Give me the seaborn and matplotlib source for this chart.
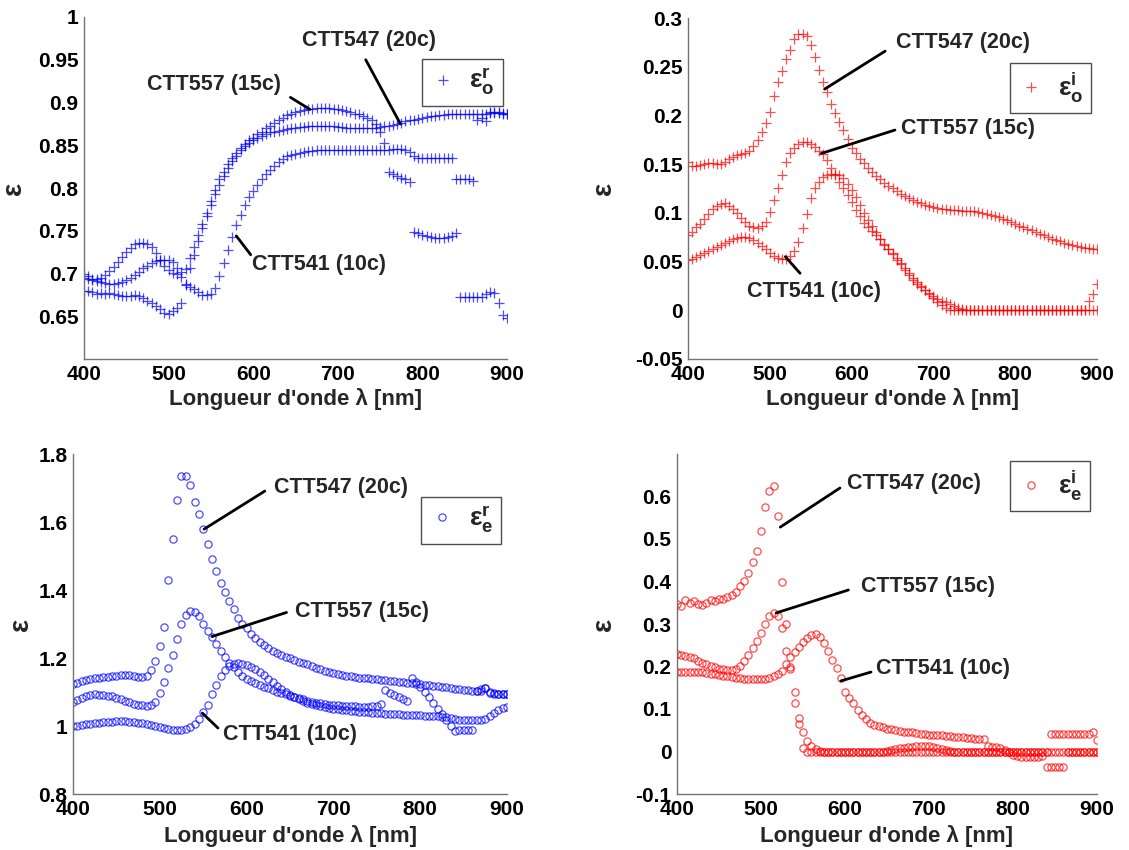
import matplotlib
matplotlib.use("Agg")
import matplotlib.pyplot as plt
import seaborn as sns
import pandas as pd
from matplotlib.ticker import FuncFormatter

sns.set_style("white")
plt.rcParams["font.family"] = ["Liberation Sans", "DejaVu Sans"]
plt.rcParams["font.weight"] = "bold"
plt.rcParams["mathtext.fontset"] = "custom"
plt.rcParams["mathtext.rm"] = "Liberation Sans:bold"
plt.rcParams["mathtext.it"] = "Liberation Sans:bold"
plt.rcParams["mathtext.bf"] = "Liberation Sans:bold"
plt.rcParams["mathtext.default"] = "bf"

# wavelength grid (nm), one sample every 5 nm
wavelength = list(range(400, 905, 5))
samples = ["CTT547 (20c)", "CTT557 (15c)", "CTT541 (10c)"]

# --- epsilon ordinary, real part ---
eo_r_20c = [0.680, 0.679, 0.678, 0.676, 0.677, 0.676, 0.677, 0.676, 0.675, 0.674,
            0.674, 0.674, 0.675, 0.674, 0.671, 0.668, 0.665, 0.662, 0.658, 0.654,
            0.653, 0.656, 0.660, 0.666, 0.688, 0.706, 0.722, 0.738, 0.753, 0.767,
            0.780, 0.793, 0.804, 0.814, 0.823, 0.831, 0.838, 0.844, 0.849, 0.853,
            0.856, 0.859, 0.861, 0.863, 0.865, 0.866, 0.867, 0.868, 0.869, 0.870,
            0.870, 0.871, 0.871, 0.872, 0.872, 0.872, 0.873, 0.873, 0.872, 0.872,
            0.871, 0.871, 0.870, 0.870, 0.870, 0.870, 0.870, 0.870, 0.870, 0.870,
            0.871, 0.872, 0.873, 0.874, 0.875, 0.876, 0.878, 0.879, 0.880, 0.881,
            0.882, 0.883, 0.884, 0.884, 0.885, 0.885, 0.886, 0.886, 0.886, 0.887,
            0.887, 0.887, 0.887, 0.887, 0.887, 0.887, 0.888, 0.888, 0.888, 0.887,
            0.886]
eo_r_15c = [0.700, 0.697, 0.694, 0.693, 0.695, 0.698, 0.703, 0.708, 0.713, 0.719,
            0.725, 0.730, 0.734, 0.736, 0.736, 0.735, 0.731, 0.724, 0.716, 0.709,
            0.704, 0.701, 0.700, 0.702, 0.705, 0.718, 0.731, 0.745, 0.758, 0.771,
            0.785, 0.798, 0.810, 0.819, 0.828, 0.835, 0.841, 0.847, 0.852, 0.856,
            0.859, 0.863, 0.866, 0.870, 0.873, 0.876, 0.879, 0.882, 0.885, 0.887,
            0.889, 0.890, 0.891, 0.892, 0.892, 0.893, 0.893, 0.893, 0.893, 0.892,
            0.892, 0.891, 0.890, 0.889, 0.887, 0.886, 0.884, 0.882, 0.879, 0.875,
            0.866, 0.853, 0.819, 0.816, 0.814, 0.812, 0.810, 0.807, 0.748, 0.747,
            0.745, 0.744, 0.743, 0.742, 0.742, 0.742, 0.743, 0.744, 0.747, 0.672,
            0.672, 0.672, 0.672, 0.672, 0.673, 0.676, 0.678, 0.677, 0.666, 0.652,
            0.648]
eo_r_10c = [0.695, 0.693, 0.692, 0.691, 0.690, 0.689, 0.688, 0.688, 0.689, 0.690,
            0.692, 0.695, 0.698, 0.702, 0.706, 0.709, 0.712, 0.715, 0.716, 0.716,
            0.716, 0.713, 0.706, 0.696, 0.686, 0.684, 0.682, 0.678, 0.675, 0.675,
            0.676, 0.683, 0.697, 0.712, 0.728, 0.743, 0.757, 0.769, 0.780, 0.789,
            0.797, 0.804, 0.810, 0.816, 0.821, 0.826, 0.830, 0.834, 0.837, 0.839,
            0.840, 0.841, 0.842, 0.843, 0.843, 0.844, 0.844, 0.844, 0.844, 0.844,
            0.844, 0.844, 0.844, 0.844, 0.844, 0.844, 0.844, 0.844, 0.844, 0.844,
            0.844, 0.844, 0.845, 0.846, 0.846, 0.846, 0.845, 0.842, 0.838, 0.835,
            0.835, 0.835, 0.835, 0.835, 0.835, 0.835, 0.835, 0.835, 0.810, 0.810,
            0.810, 0.810, 0.808, 0.880, 0.882, 0.878, 0.889, 0.889, 0.889, 0.888,
            0.886]

# --- epsilon ordinary, imaginary part ---
eo_i_20c = [0.152, 0.148, 0.148, 0.149, 0.150, 0.151, 0.151, 0.150, 0.150, 0.152,
            0.155, 0.157, 0.159, 0.160, 0.161, 0.164, 0.169, 0.175, 0.183, 0.192,
            0.204, 0.220, 0.234, 0.246, 0.258, 0.267, 0.278, 0.284, 0.284, 0.282,
            0.272, 0.260, 0.247, 0.234, 0.224, 0.212, 0.202, 0.193, 0.185, 0.176,
            0.167, 0.161, 0.155, 0.151, 0.146, 0.142, 0.138, 0.135, 0.131, 0.128,
            0.125, 0.122, 0.119, 0.117, 0.115, 0.113, 0.111, 0.110, 0.108, 0.107,
            0.106, 0.105, 0.104, 0.104, 0.103, 0.103, 0.103, 0.102, 0.102, 0.102,
            0.102, 0.101, 0.100, 0.099, 0.098, 0.097, 0.096, 0.094, 0.093, 0.091,
            0.089, 0.087, 0.085, 0.083, 0.082, 0.080, 0.078, 0.077, 0.075, 0.073,
            0.072, 0.071, 0.069, 0.068, 0.067, 0.066, 0.065, 0.064, 0.064, 0.063,
            0.063]
eo_i_15c = [0.077, 0.080, 0.085, 0.089, 0.094, 0.099, 0.104, 0.107, 0.109, 0.110,
            0.107, 0.104, 0.100, 0.095, 0.091, 0.087, 0.085, 0.084, 0.086, 0.091,
            0.101, 0.113, 0.126, 0.139, 0.152, 0.161, 0.167, 0.171, 0.173, 0.173,
            0.171, 0.168, 0.164, 0.160, 0.154, 0.146, 0.139, 0.132, 0.125, 0.118,
            0.111, 0.103, 0.097, 0.090, 0.085, 0.081, 0.077, 0.073, 0.068, 0.063,
            0.058, 0.052, 0.047, 0.041, 0.036, 0.031, 0.027, 0.024, 0.021, 0.017,
            0.013, 0.009, 0.005, 0.002, 0.000, 0.000, 0.000, 0.000, 0.000, 0.000,
            0.000, 0.000, 0.000, 0.000, 0.000, 0.000, 0.000, 0.000, 0.000, 0.000,
            0.000, 0.000, 0.000, 0.000, 0.000, 0.000, 0.000, 0.000, 0.000, 0.000,
            0.000, 0.000, 0.000, 0.000, 0.000, 0.000, 0.000, 0.000, 0.010, 0.017,
            0.027]
eo_i_10c = [0.052, 0.053, 0.055, 0.057, 0.059, 0.061, 0.063, 0.065, 0.067, 0.069,
            0.071, 0.073, 0.074, 0.075, 0.075, 0.074, 0.072, 0.069, 0.066, 0.063,
            0.059, 0.056, 0.054, 0.053, 0.053, 0.056, 0.061, 0.070, 0.084, 0.099,
            0.115, 0.126, 0.132, 0.137, 0.139, 0.140, 0.140, 0.139, 0.136, 0.130,
            0.123, 0.116, 0.108, 0.100, 0.093, 0.086, 0.080, 0.073, 0.067, 0.063,
            0.059, 0.054, 0.049, 0.043, 0.038, 0.033, 0.029, 0.025, 0.021, 0.018,
            0.015, 0.012, 0.010, 0.008, 0.006, 0.004, 0.002, 0.001, 0.000, 0.000,
            0.000, 0.000, 0.000, 0.000, 0.000, 0.000, 0.000, 0.000, 0.000, 0.000,
            0.000, 0.000, 0.000, 0.000, 0.000, 0.000, 0.000, 0.000, 0.000, 0.000,
            0.000, 0.000, 0.000, 0.000, 0.000, 0.000, 0.000, 0.000, 0.000, 0.000,
            0.000]

# --- epsilon extraordinary, real part ---
ee_r_20c = [1.123, 1.127, 1.132, 1.136, 1.139, 1.140, 1.141, 1.143, 1.145, 1.147,
            1.148, 1.150, 1.151, 1.149, 1.147, 1.145, 1.144, 1.147, 1.165, 1.190,
            1.235, 1.290, 1.430, 1.550, 1.665, 1.735, 1.735, 1.710, 1.660, 1.625,
            1.580, 1.535, 1.490, 1.455, 1.422, 1.393, 1.368, 1.343, 1.318, 1.300,
            1.287, 1.272, 1.258, 1.247, 1.238, 1.230, 1.222, 1.215, 1.209, 1.204,
            1.199, 1.194, 1.189, 1.185, 1.181, 1.177, 1.172, 1.167, 1.162, 1.158,
            1.155, 1.152, 1.150, 1.148, 1.146, 1.144, 1.142, 1.141, 1.140, 1.139,
            1.138, 1.136, 1.135, 1.133, 1.131, 1.130, 1.129, 1.127, 1.126, 1.125,
            1.123, 1.121, 1.120, 1.118, 1.117, 1.115, 1.114, 1.112, 1.110, 1.108,
            1.107, 1.105, 1.104, 1.103, 1.102, 1.113, 1.100, 1.097, 1.095, 1.094,
            1.094]
ee_r_15c = [1.071, 1.077, 1.083, 1.088, 1.091, 1.093, 1.092, 1.091, 1.089, 1.087,
            1.083, 1.079, 1.075, 1.070, 1.066, 1.063, 1.061, 1.060, 1.061, 1.072,
            1.096, 1.128, 1.170, 1.208, 1.255, 1.300, 1.327, 1.337, 1.334, 1.323,
            1.300, 1.280, 1.261, 1.240, 1.221, 1.203, 1.185, 1.173, 1.159, 1.146,
            1.139, 1.133, 1.127, 1.121, 1.116, 1.111, 1.106, 1.101, 1.097, 1.093,
            1.089, 1.085, 1.081, 1.078, 1.075, 1.072, 1.069, 1.067, 1.065, 1.063,
            1.062, 1.061, 1.060, 1.059, 1.058, 1.058, 1.057, 1.057, 1.057, 1.058,
            1.060, 1.066, 1.105, 1.098, 1.092, 1.086, 1.080, 1.074, 1.140, 1.128,
            1.115, 1.100, 1.085, 1.068, 1.050, 1.035, 1.018, 1.000, 0.986, 0.988,
            0.988, 0.988, 0.988, 1.103, 1.110, 1.112, 1.097, 1.095, 1.094, 1.094,
            1.095]
ee_r_10c = [1.000, 1.001, 1.003, 1.005, 1.007, 1.009, 1.010, 1.011, 1.012, 1.013,
            1.014, 1.014, 1.014, 1.013, 1.012, 1.010, 1.008, 1.006, 1.004, 1.001,
            0.998, 0.994, 0.991, 0.988, 0.987, 0.988, 0.990, 0.996, 1.006, 1.021,
            1.040, 1.063, 1.093, 1.122, 1.146, 1.164, 1.176, 1.182, 1.184, 1.183,
            1.180, 1.175, 1.168, 1.160, 1.150, 1.139, 1.128, 1.118, 1.108, 1.099,
            1.091, 1.084, 1.078, 1.073, 1.068, 1.064, 1.061, 1.058, 1.055, 1.053,
            1.051, 1.049, 1.048, 1.046, 1.045, 1.044, 1.042, 1.041, 1.040, 1.039,
            1.038, 1.037, 1.036, 1.035, 1.035, 1.034, 1.033, 1.033, 1.032, 1.031,
            1.031, 1.030, 1.030, 1.029, 1.028, 1.027, 1.026, 1.025, 1.022, 1.018,
            1.018, 1.018, 1.018, 1.018, 1.019, 1.022, 1.030, 1.038, 1.046, 1.052,
            1.056]

# --- epsilon extraordinary, imaginary part ---
ee_i_20c = [0.346, 0.342, 0.356, 0.350, 0.354, 0.348, 0.345, 0.350, 0.357, 0.355,
            0.358, 0.360, 0.363, 0.368, 0.375, 0.389, 0.401, 0.420, 0.445, 0.472,
            0.520, 0.575, 0.612, 0.625, 0.555, 0.400, 0.300, 0.200, 0.115, 0.065,
            0.008, 0.000, 0.000, 0.000, 0.000, 0.000, 0.000, 0.000, 0.000, 0.000,
            0.000, 0.000, 0.000, 0.000, 0.000, 0.000, 0.000, 0.000, 0.000, 0.000,
            0.000, 0.000, 0.000, 0.000, 0.000, 0.000, 0.000, 0.000, 0.000, 0.000,
            0.000, 0.000, 0.000, 0.000, 0.000, 0.000, 0.000, 0.000, 0.000, 0.000,
            0.000, 0.000, 0.000, 0.000, 0.000, 0.000, 0.000, 0.000, 0.000, 0.000,
            0.000, 0.000, 0.000, 0.000, 0.000, 0.000, 0.000, 0.000, 0.000, 0.000,
            0.000, 0.000, 0.000, 0.000, 0.000, 0.000, 0.000, 0.000, 0.000, 0.000,
            0.000]
ee_i_15c = [0.229, 0.227, 0.225, 0.222, 0.219, 0.214, 0.209, 0.205, 0.201, 0.198,
            0.195, 0.193, 0.191, 0.191, 0.194, 0.201, 0.212, 0.228, 0.244, 0.260,
            0.279, 0.299, 0.318, 0.327, 0.318, 0.290, 0.237, 0.195, 0.140, 0.080,
            0.045, 0.025, 0.012, 0.006, 0.002, 0.000, 0.000, 0.000, 0.000, 0.000,
            0.000, 0.000, 0.000, 0.000, 0.000, 0.000, 0.000, 0.000, 0.000, 0.000,
            0.002, 0.004, 0.006, 0.008, 0.009, 0.010, 0.011, 0.012, 0.012, 0.012,
            0.012, 0.011, 0.009, 0.007, 0.004, 0.002, 0.000, 0.000, 0.000, 0.000,
            0.000, 0.000, 0.000, 0.000, 0.000, 0.000, 0.000, 0.000, 0.000, 0.000,
            0.000, 0.000, 0.000, 0.000, 0.000, 0.000, 0.000, 0.000, 0.000, 0.042,
            0.042, 0.042, 0.042, 0.042, 0.042, 0.042, 0.042, 0.042, 0.042, 0.045,
            0.027]
ee_i_10c = [0.188, 0.188, 0.188, 0.188, 0.188, 0.187, 0.186, 0.185, 0.183, 0.182,
            0.180, 0.178, 0.177, 0.175, 0.174, 0.173, 0.171, 0.170, 0.170, 0.170,
            0.170, 0.171, 0.173, 0.177, 0.182, 0.189, 0.205, 0.222, 0.234, 0.245,
            0.258, 0.268, 0.275, 0.276, 0.270, 0.255, 0.236, 0.215, 0.196, 0.172,
            0.141, 0.125, 0.113, 0.098, 0.085, 0.076, 0.068, 0.063, 0.060, 0.057,
            0.054, 0.052, 0.050, 0.048, 0.047, 0.046, 0.045, 0.044, 0.042, 0.041,
            0.040, 0.039, 0.038, 0.038, 0.037, 0.036, 0.035, 0.034, 0.033, 0.032,
            0.031, 0.030, 0.030, 0.029, 0.012, 0.011, 0.010, 0.008, 0.004, 0.000,
            -0.008, -0.010, -0.012, -0.012, -0.012, -0.012, -0.012, -0.010, -0.036, -0.037,
            -0.037, -0.037, -0.037, 0.000, 0.000, 0.000, 0.000, 0.000, 0.000, 0.000,
            0.000]

panels = [
    dict(series=[eo_r_20c, eo_r_15c, eo_r_10c], color="blue", marker="+", ms=6.5,
         legend=r"$ε^r_o$", ylim=(0.6, 1.0),
         yticks=[0.65, 0.7, 0.75, 0.8, 0.85, 0.9, 0.95, 1.0],
         box=(84, 17, 507, 359), leg=(0.99, 0.877), ylab_x=-0.135, xlab_y=-0.085,
         notes=[((658, 0.972), (733, 0.950), (774, 0.875)),
                ((474, 0.921), (644, 0.906), (667, 0.892)),
                ((599, 0.710), (597, 0.722), (580, 0.744))]),
    dict(series=[eo_i_20c, eo_i_15c, eo_i_10c], color="red", marker="+", ms=6.5,
         legend=r"$ε^i_o$", ylim=(-0.05, 0.3),
         yticks=[-0.05, 0, 0.05, 0.1, 0.15, 0.2, 0.25, 0.3],
         box=(688, 18, 1097, 359), leg=(0.985, 0.868), ylab_x=-0.173, xlab_y=-0.085,
         notes=[((654, 0.275), (641, 0.266), (567, 0.227)),
                ((661, 0.187), (653, 0.185), (563, 0.161)),
                ((472, 0.019), (537, 0.038), (519, 0.055))]),
    dict(series=[ee_r_20c, ee_r_15c, ee_r_10c], color="blue", marker="o", ms=5.2,
         legend=r"$ε^r_e$", ylim=(0.8, 1.8),
         yticks=[0.8, 1.0, 1.2, 1.4, 1.6, 1.8],
         box=(73, 454, 507, 794), leg=(0.986, 0.874), ylab_x=-0.09, xlab_y=-0.09,
         notes=[((632, 1.702), (621, 1.691), (551, 1.579)),
                ((656, 1.337), (646, 1.334), (560, 1.263)),
                ((573, 0.974), (567, 0.994), (549, 1.038))]),
    dict(series=[ee_i_20c, ee_i_15c, ee_i_10c], color="red", marker="o", ms=5.2,
         legend=r"$ε^i_e$", ylim=(-0.1, 0.7),
         yticks=[-0.1, 0, 0.1, 0.2, 0.3, 0.4, 0.5, 0.6],
         box=(677, 454, 1097, 794), leg=(0.983, 0.979), ylab_x=-0.143, xlab_y=-0.09,
         notes=[((602, 0.631), (594, 0.620), (523, 0.528)),
                ((619, 0.388), (604, 0.380), (518, 0.326)),
                ((637, 0.195), (631, 0.187), (595, 0.166))]),
]

W, H = 1129, 850
fig = plt.figure(figsize=(W / 100, H / 100), dpi=100)
fmt = FuncFormatter(lambda v, p: "%g" % round(v, 3))

for p in panels:
    l, t, r, b = p["box"]
    ax = fig.add_axes([l / W, 1 - b / H, (r - l) / W, (b - t) / H])
    frames = []
    for name, vals in zip(samples, p["series"]):
        frames.append(pd.DataFrame({"wl": wavelength, "eps": vals, "sample": name}))
    df = pd.concat(frames, ignore_index=True)
    sns.lineplot(data=df, x="wl", y="eps", units="sample", estimator=None, sort=False,
                 color=p["color"], marker=p["marker"], linestyle="none",
                 markersize=p["ms"], markeredgewidth=0.9, markerfacecolor="none",
                 markeredgecolor=p["color"], alpha=0.7, legend=False, ax=ax)

    ax.set_xlim(400, 900)
    ax.set_ylim(*p["ylim"])
    ax.set_xticks([400, 500, 600, 700, 800, 900])
    ax.set_yticks(p["yticks"])
    ax.yaxis.set_major_formatter(fmt)
    ax.tick_params(direction="in", length=4, width=0.8, color="0.45",
                   labelsize=15, labelcolor="black", pad=4)
    for lab in ax.get_xticklabels() + ax.get_yticklabels():
        lab.set_fontweight("bold")
    sns.despine(ax=ax)
    for s in ("left", "bottom"):
        ax.spines[s].set_color("0.45")
        ax.spines[s].set_linewidth(1.0)

    ax.set_xlabel("Longueur d'onde λ [nm]", fontsize=16, fontweight="bold")
    ax.set_ylabel("ε", fontsize=20, fontweight="bold")
    ax.xaxis.set_label_coords(0.5, p["xlab_y"])
    ax.yaxis.set_label_coords(p["ylab_x"], 0.5)

    for name, (txt, tail, tip) in zip(samples, p["notes"]):
        ax.text(txt[0], txt[1], name, fontsize=15.5, fontweight="bold",
                ha="left", va="center")
        ax.annotate("", xy=tip, xytext=tail,
                    arrowprops=dict(arrowstyle="-", color="black", lw=2,
                                    shrinkA=0, shrinkB=0))

    leg = ax.legend([ax.lines[0]], [p["legend"]], loc="upper right",
                    bbox_to_anchor=p["leg"], frameon=True, fancybox=False,
                    framealpha=1, edgecolor="0.3", fontsize=19, numpoints=1,
                    handlelength=1.0, handletextpad=0.5, borderpad=0.3,
                    borderaxespad=0)
    leg.get_frame().set_linewidth(1.0)

fig.savefig("out.png", dpi=100)
